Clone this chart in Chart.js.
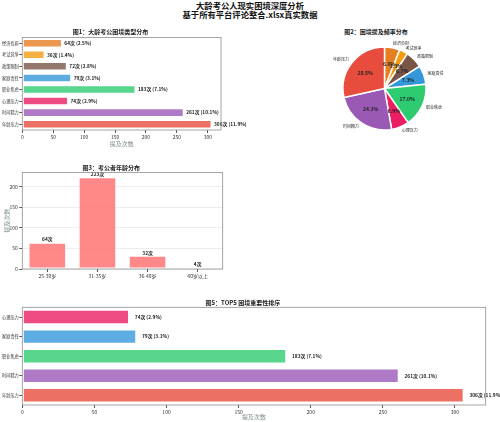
<!DOCTYPE html>
<html>
<head>
<meta charset="utf-8">
<script src="https://cdn.jsdelivr.net/npm/chart.js@4.4.0/dist/chart.umd.min.js"></script>
<style>
body { margin: 0; background: #fff; }
#wrap { position: relative; width: 500px; height: 422px; overflow: hidden; font-family: "Noto Sans CJK SC", sans-serif; }
.caja { position: absolute; }
#titulo { position: absolute; left: 0; top: 1px; width: 500px; text-align: center; font-weight: bold; font-size: 8.3px; line-height: 9px; color: #111; }
#titulo2 { position: absolute; left: 290px; top: 28px; width: 172px; text-align: center; font-weight: bold; font-size: 6px; line-height: 7px; color: #222; }
</style>
</head>
<body>
<div id="wrap">
  <div id="titulo">大龄考公人现实困境深度分析<br>基于所有平台评论整合.xlsx真实数据</div>
  <div class="caja" style="left:0;top:28px;width:280px;height:122px"><canvas id="g1"></canvas></div>
  <div id="titulo2">图2：困境提及频率分布</div>
  <div class="caja" style="left:290px;top:40px;width:200px;height:100px"><canvas id="g2"></canvas></div>
  <div class="caja" style="left:0;top:163.7px;width:240px;height:117.3px"><canvas id="g3"></canvas></div>
  <div class="caja" style="left:0;top:299px;width:500px;height:123px"><canvas id="g5"></canvas></div>
</div>
<script>
// datos
var categorias = ['经济负担', '考试竞争', '政策限制', '家庭责任', '职业焦虑', '心理压力', '时间精力', '年龄压力'];
var menciones = [64, 36, 72, 79, 183, 74, 261, 306];
var porcentajes = ['2.5%', '1.4%', '2.8%', '3.1%', '7.1%', '2.9%', '10.1%', '11.9%'];

var edades = ['25-30岁', '31-35岁', '36-40岁', '40岁以上'];
var edades_menciones = [64, 223, 32, 4];

var top5 = ['心理压力', '家庭责任', '职业焦虑', '时间精力', '年龄压力'];
var top5_menciones = [74, 79, 183, 261, 306];
var top5_porcentajes = ['2.9%', '3.1%', '7.1%', '10.1%', '11.9%'];

var ticks_menciones = [0, 50, 100, 150, 200, 250, 300];
var ticks_edades = [0, 50, 100, 150, 200];

// colores
var colores_solidos = ['#e67e22', '#f39c12', '#795548', '#3498db', '#2ecc71', '#e91e63', '#9b59b6', '#e74c3c'];
var colores_barras = ['rgba(230,126,34,0.8)', 'rgba(243,156,18,0.8)', 'rgba(121,85,72,0.8)', 'rgba(52,152,219,0.8)',
                      'rgba(46,204,113,0.8)', 'rgba(233,30,99,0.8)', 'rgba(155,89,182,0.8)', 'rgba(231,76,60,0.8)'];
var colores_top5 = ['rgba(233,30,99,0.8)', 'rgba(52,152,219,0.8)', 'rgba(46,204,113,0.8)', 'rgba(155,89,182,0.8)', 'rgba(231,76,60,0.8)'];

var fuente = '"Noto Sans CJK SC", sans-serif';
Chart.defaults.font.family = fuente;
Chart.defaults.color = '#333';

function textos (valores, pcts) {
    return valores.map(function (v, i) { return v + '次' + (pcts ? ' (' + pcts[i] + ')' : ''); });
}

// marco alrededor del area (spines)
var marco = {
    id: 'marco',
    afterDraw: function (chart) {
        var a = chart.chartArea, ctx = chart.ctx;
        ctx.save();
        ctx.strokeStyle = '#8f8f8f';
        ctx.lineWidth = 0.8;
        ctx.strokeRect(a.left, a.top, a.right - a.left, a.bottom - a.top);
        ctx.restore();
    }
};

// etiquetas de valor sobre las barras
var etiquetas = {
    id: 'etiquetas',
    afterDatasetsDraw: function (chart, args, opts) {
        var ctx = chart.ctx;
        var meta = chart.getDatasetMeta(0);
        var horizontal = chart.options.indexAxis === 'y';
        var escala = horizontal ? chart.scales.x : chart.scales.y;
        var datos = chart.data.datasets[0].data;
        ctx.save();
        ctx.font = 'bold ' + opts.size + 'px ' + fuente;
        ctx.fillStyle = '#222';
        meta.data.forEach(function (barra, i) {
            if (horizontal) {
                ctx.textAlign = 'left';
                ctx.textBaseline = 'middle';
                ctx.fillText(opts.textos[i], escala.getPixelForValue(datos[i] + opts.gap), barra.y);
            } else {
                ctx.textAlign = 'center';
                ctx.textBaseline = 'bottom';
                ctx.fillText(opts.textos[i], barra.x, escala.getPixelForValue(datos[i] + opts.gap));
            }
        });
        ctx.restore();
    }
};

// rotulos del pastel
var rotulos = {
    id: 'rotulos',
    afterDatasetsDraw: function (chart) {
        var ctx = chart.ctx;
        var meta = chart.getDatasetMeta(0);
        var datos = chart.data.datasets[0].data;
        var total = datos.reduce(function (a, b) { return a + b; }, 0);
        ctx.save();
        meta.data.forEach(function (arco, i) {
            var p = arco.getProps(['x', 'y', 'startAngle', 'endAngle', 'outerRadius']);
            var ang = (p.startAngle + p.endAngle) / 2;
            var c = Math.cos(ang), s = Math.sin(ang);
            ctx.font = '4px ' + fuente;
            ctx.fillStyle = '#222';
            ctx.textBaseline = 'middle';
            ctx.textAlign = c >= 0 ? 'left' : 'right';
            ctx.fillText(chart.data.labels[i], p.x + c * p.outerRadius * 1.1, p.y + s * p.outerRadius * 1.1);
            ctx.font = 'bold 5px ' + fuente;
            ctx.textAlign = 'center';
            ctx.fillText((datos[i] / total * 100).toFixed(1) + '%', p.x + c * p.outerRadius * 0.6, p.y + s * p.outerRadius * 0.6);
        });
        ctx.restore();
    }
};

function fijar_ancho (w) { return function (scale) { scale.width = w; }; }
function fijar_alto (h) { return function (scale) { scale.height = h; }; }
function fijar_ticks (lista) { return function (scale) { scale.ticks = lista.map(function (v) { return { value: v }; }); }; }

function titulo (texto, abajo) {
    return { display: true, text: texto, font: { size: 6, weight: 'bold' }, color: '#222', padding: { top: 0, bottom: abajo } };
}

function barras_horizontales (id, labels, datos, colores, txt, tit, derecha, alto_x, pad_titulo_x, pad_titulo) {
    var ctx = document.getElementById(id).getContext('2d');
    return new Chart(ctx, {
        type: 'bar',
        data: {
            labels: labels,
            datasets: [{
                data: datos,
                backgroundColor: colores,
                borderColor: 'rgba(255,255,255,0.9)',
                borderWidth: 1,
                borderSkipped: false,
                barPercentage: 0.74,
                categoryPercentage: 1
            }]
        },
        options: {
            indexAxis: 'y',
            responsive: true,
            maintainAspectRatio: false,
            animation: false,
            layout: { padding: { left: 0, right: derecha, top: 0, bottom: 0 } },
            plugins: {
                legend: { display: false },
                tooltip: { enabled: false },
                title: titulo(tit, pad_titulo),
                etiquetas: { textos: txt, gap: 4, size: 4.8 }
            },
            scales: {
                x: {
                    min: 0,
                    max: 321.3,
                    afterBuildTicks: fijar_ticks(ticks_menciones),
                    afterFit: fijar_alto(alto_x),
                    border: { display: false },
                    grid: { drawOnChartArea: false, drawTicks: true, tickLength: 3, tickColor: '#555' },
                    ticks: { font: { size: 5 }, padding: 1.5, color: '#333' },
                    title: { display: true, text: '提及次数', font: { size: 6 }, color: '#7f8c8d', padding: { top: 0, bottom: pad_titulo_x } }
                },
                y: {
                    afterFit: fijar_ancho(22.3),
                    border: { display: false },
                    grid: { drawOnChartArea: false, drawTicks: true, tickLength: 3, tickColor: '#555', offset: false },
                    ticks: { font: { size: 4.2 }, padding: 0.5, color: '#333' }
                }
            }
        },
        plugins: [marco, etiquetas]
    });
}

barras_horizontales('g1', categorias, menciones, colores_barras, textos(menciones, porcentajes),
    '图1：大龄考公困境类型分布', 59, 20, 2.4, 2.2);

// pastel
var ctx2 = document.getElementById('g2').getContext('2d');
new Chart(ctx2, {
    type: 'pie',
    data: {
        labels: categorias,
        datasets: [{
            data: menciones,
            backgroundColor: colores_solidos,
            borderColor: '#ffffff',
            borderWidth: 1.5
        }]
    },
    options: {
        responsive: true,
        maintainAspectRatio: false,
        animation: false,
        layout: { padding: { left: 52.25, right: 63.25, top: 6.25, bottom: 9.25 } },
        plugins: {
            legend: { display: false },
            tooltip: { enabled: false }
        }
    },
    plugins: [rotulos]
});

// edades
var ctx3 = document.getElementById('g3').getContext('2d');
new Chart(ctx3, {
    type: 'bar',
    data: {
        labels: edades,
        datasets: [{
            data: edades_menciones,
            backgroundColor: 'rgba(255,107,107,0.8)',
            borderColor: 'rgba(255,255,255,0.9)',
            borderWidth: 1,
            borderSkipped: false,
            barPercentage: 0.75,
            categoryPercentage: 1
        }]
    },
    options: {
        responsive: true,
        maintainAspectRatio: false,
        animation: false,
        layout: { padding: { left: 0, right: 17.3, top: 0, bottom: 0 } },
        plugins: {
            legend: { display: false },
            tooltip: { enabled: false },
            title: titulo('图3：考公者年龄分布', 1.4),
            etiquetas: { textos: textos(edades_menciones), gap: 1.5, size: 4.8 }
        },
        scales: {
            x: {
                afterFit: fijar_alto(12.3),
                border: { display: false },
                grid: { drawOnChartArea: false, drawTicks: true, tickLength: 3, tickColor: '#555', offset: false },
                ticks: { font: { size: 5 }, padding: 1.5, color: '#333' }
            },
            y: {
                min: 0,
                max: 234.2,
                afterBuildTicks: fijar_ticks(ticks_edades),
                afterFit: fijar_ancho(22.3),
                border: { display: false },
                grid: { drawOnChartArea: true, color: 'rgba(0,0,0,0.07)', drawTicks: true, tickLength: 3, tickColor: '#555' },
                ticks: { font: { size: 5 }, padding: 1.5, color: '#333' },
                title: { display: true, text: '提及次数', font: { size: 6 }, color: '#7f8c8d', padding: { top: 3.5, bottom: 0 } }
            }
        }
    },
    plugins: [marco, etiquetas]
});

barras_horizontales('g5', top5, top5_menciones, colores_top5, textos(top5_menciones, top5_porcentajes),
    '图5：TOP5 困境重要性排序', 14.3, 17, 1.7, 1.1);
</script>
</body>
</html>
